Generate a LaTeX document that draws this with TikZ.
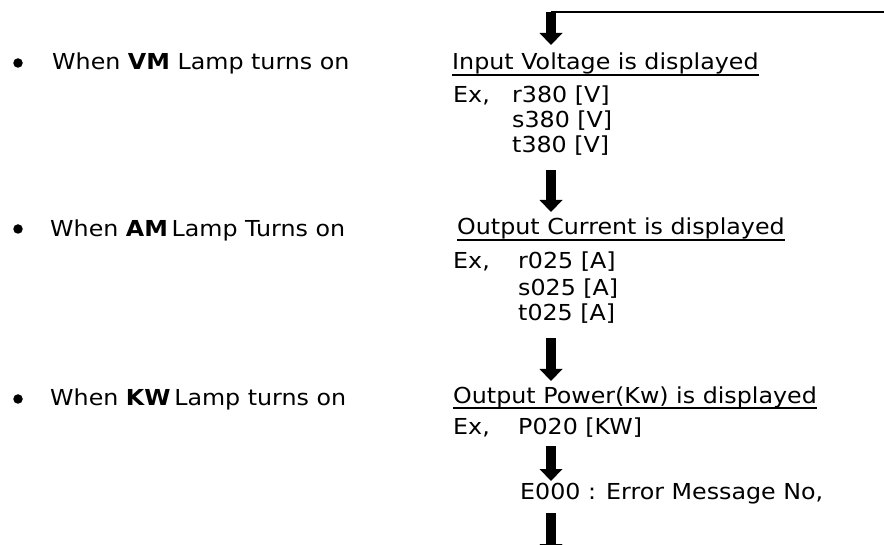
\documentclass[tikz,border=0pt]{standalone}
\usepackage{fontspec}
\setmainfont[FakeStretch=1.08]{DejaVu Sans}
\usetikzlibrary{arrows.meta}

\tikzset{
  lbl/.style={anchor=base west, inner sep=0pt, font=\fontsize{22}{25}\selectfont},
  titlelbl/.style={lbl, append after command={
      ([yshift=-5pt]\tikzlastnode.base west) edge[draw=black, line width=1.5pt]
      ([yshift=-5pt]\tikzlastnode.base east)}},
  bulletdot/.style={circle, fill=black, inner sep=0pt, minimum size=9.5pt},
  blockarrow/.style={draw=black, line width=10pt,
    -{Triangle[length=12pt, width=23pt, line width=0pt]}},
  feedline/.style={draw=black, line width=2pt}
}

\begin{document}
\begin{tikzpicture}[x=1pt, y=-1pt]

  \clip (0,0) rectangle (884,545);

  % Lamp bullets
  \node[bulletdot] (dot1) at (18,63) {};
  \node[lbl] (vmlamp) at (52,70) {When \textbf{VM} Lamp turns on};
  \node[bulletdot] (dot2) at (18,229) {};
  \node[lbl] (amlamp) at (50,237) {When \textbf{AM}\,Lamp Turns on};
  \node[bulletdot] (dot3) at (18,399) {};
  \node[lbl] (kwlamp) at (50,406) {When \textbf{KW}\,Lamp turns on};

  % Input voltage
  \node[titlelbl] (vtitle) at (452,70) {Input Voltage is displayed};
  \node[lbl] (vex) at (453,103) {Ex,};
  \node[lbl] (vr) at (512,103) {r380 [V]};
  \node[lbl] (vs) at (512,128) {s380 [V]};
  \node[lbl] (vt) at (512,153) {t380 [V]};

  % Output current
  \node[titlelbl] (ititle) at (457,235) {Output Current is displayed};
  \node[lbl] (iex) at (453,269) {Ex,};
  \node[lbl] (ir) at (518,269) {r025 [A]};
  \node[lbl] (is) at (518,296) {s025 [A]};
  \node[lbl] (it) at (518,321) {t025 [A]};

  % Output power
  \node[titlelbl] (ptitle) at (453,403) {Output Power(Kw) is displayed};
  \node[lbl] (pex) at (453,434) {Ex,};
  \node[lbl] (pval) at (518,434) {P020 [KW]};

  % Error
  \node[lbl] (errno) at (520,499) {E000 : Error Message No,};

  % arrow ends
  \coordinate (a1s) at (551,12);
  \coordinate (a1e) at (551,45);
  \coordinate (loopin) at (884,12);
  \coordinate (a2s) at (551,170);
  \coordinate (a2e) at (551,212);
  \coordinate (a3s) at (551,338);
  \coordinate (a3e) at (551,381);
  \coordinate (a4s) at (551,446);
  \coordinate (a4e) at (551,481);
  \coordinate (a5s) at (551,513);
  \coordinate (a5e) at (551,556);

  \draw[feedline] (loopin) -- (a1s);
  \draw[blockarrow] (a1s) -- (a1e);
  \draw[blockarrow] (a2s) -- (a2e);
  \draw[blockarrow] (a3s) -- (a3e);
  \draw[blockarrow] (a4s) -- (a4e);
  \draw[blockarrow] (a5s) -- (a5e);

\end{tikzpicture}
\end{document}
